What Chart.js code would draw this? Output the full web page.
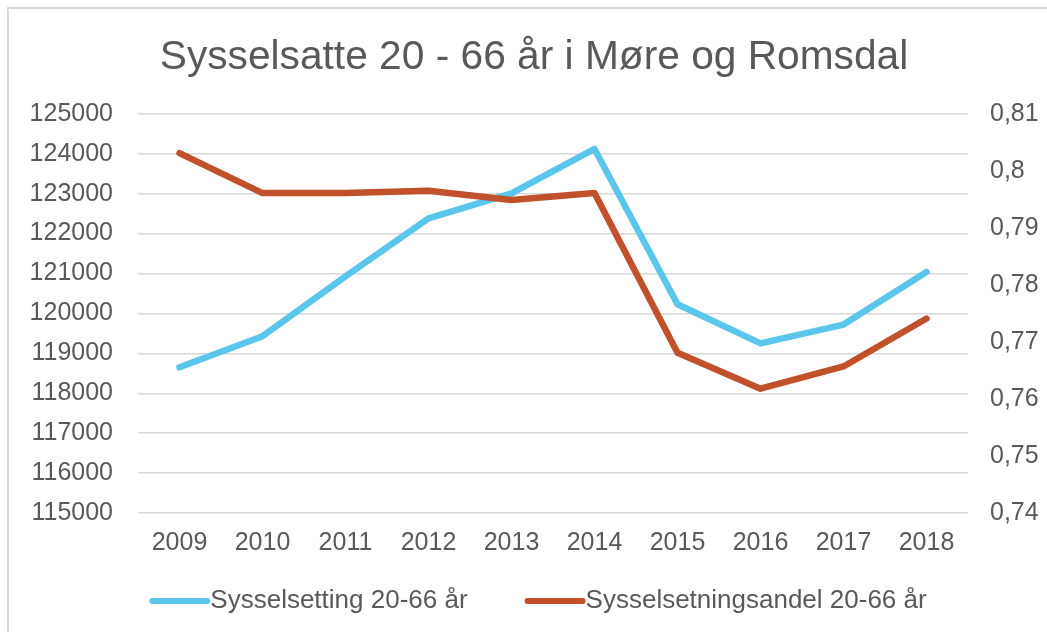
<!DOCTYPE html>
<html>
<head>
<meta charset="utf-8">
<script src="https://cdn.jsdelivr.net/npm/chart.js@4/dist/chart.umd.min.js"></script>
<style>
    html, body { margin: 0; padding: 0; background: #fff; overflow: hidden; }
    #frame {
        position: absolute; left: 7px; top: 7px;
        width: 1060px; height: 650px;
        border: 2px solid #d9d9d9;
    }
    #chart { position: absolute; left: 0; top: 0; }
</style>
</head>
<body>
<div id="frame"><canvas id="chart" width="1050" height="640"></canvas></div>
<script>
// === DATA ===
const years = ["2009", "2010", "2011", "2012", "2013", "2014", "2015", "2016", "2017", "2018"];
const sysselsetting = [118650, 119430, 120930, 122380, 123010, 124120, 120230, 119250, 119720, 121040];
const sysselsetningsandel = [0.8031, 0.7961, 0.7961, 0.7965, 0.7949, 0.7961, 0.7681, 0.7618, 0.7657, 0.7741];
const seriesNames = ["Sysselsetting 20-66 år", "Sysselsetningsandel 20-66 år"];
const seriesColors = ["#5bc6ec", "#c0512a"];
const chartTitle = "Sysselsatte 20 - 66 år i Møre og Romsdal";

const textColor = "#595959";
const fontFamily = "'Liberation Sans', Arial, sans-serif";

// legend drawn by hand: line swatch with the text right after it, like Excel
const bottomLegend = {
    id: "bottomLegend",
    afterDraw(chart) {
        const c = chart.ctx;
        const lineLen = 61;
        const gap = 57;
        c.save();
        c.font = "26px " + fontFamily;
        c.textBaseline = "middle";
        const widths = seriesNames.map(n => c.measureText(n).width);
        const total = widths.reduce((a, w) => a + w + lineLen, 0) + gap * (seriesNames.length - 1);
        let x = chart.width / 2 + 4 - total / 2;
        const y = 592;
        seriesNames.forEach((name, i) => {
            c.strokeStyle = seriesColors[i];
            c.lineWidth = 6;
            c.lineCap = "round";
            c.beginPath();
            c.moveTo(x + 3, y);
            c.lineTo(x + lineLen - 3, y);
            c.stroke();
            c.fillStyle = textColor;
            c.fillText(name, x + lineLen, y);
            x += lineLen + widths[i] + gap;
        });
        c.restore();
    }
};

const ctx = document.getElementById("chart").getContext("2d");

new Chart(ctx, {
    type: "line",
    data: {
        labels: years,
        datasets: [
            {
                label: seriesNames[0],
                data: sysselsetting,
                yAxisID: "y",
                borderColor: seriesColors[0],
                borderWidth: 6.5,
                pointRadius: 0,
                tension: 0,
                borderJoinStyle: "round",
                borderCapStyle: "round",
                order: 1
            },
            {
                label: seriesNames[1],
                data: sysselsetningsandel,
                yAxisID: "y1",
                borderColor: seriesColors[1],
                borderWidth: 6.5,
                pointRadius: 0,
                tension: 0,
                borderJoinStyle: "round",
                borderCapStyle: "round",
                order: 0
            }
        ]
    },
    options: {
        responsive: false,
        animation: false,
        layout: { padding: { top: 0, bottom: 76 } },
        plugins: {
            title: {
                display: true,
                text: chartTitle,
                color: textColor,
                font: { family: fontFamily, size: 40.7, weight: "normal" },
                padding: { top: 24, bottom: 32 }
            },
            legend: { display: false },
            tooltip: { enabled: false }
        },
        scales: {
            x: {
                offset: true,
                grid: { display: false, drawTicks: false },
                border: { display: false },
                ticks: {
                    color: textColor,
                    font: { family: fontFamily, size: 25 },
                    padding: 15,
                    maxRotation: 0
                }
            },
            y: {
                position: "left",
                min: 115000,
                max: 125000,
                grid: { color: "#d9d9d9", lineWidth: 1.5, drawTicks: false },
                border: { display: false },
                afterFit: (scale) => { scale.width = 129; },
                ticks: {
                    stepSize: 1000,
                    color: textColor,
                    font: { family: fontFamily, size: 25 },
                    padding: 25,
                    callback: (v) => String(v)
                }
            },
            y1: {
                position: "right",
                min: 0.74,
                max: 0.81,
                grid: { display: false, drawTicks: false },
                border: { display: false },
                afterFit: (scale) => { scale.width = 91; },
                ticks: {
                    stepSize: 0.01,
                    color: textColor,
                    font: { family: fontFamily, size: 25 },
                    padding: 22,
                    callback: (v) => String(Math.round(v * 100) / 100).replace(".", ",")
                }
            }
        }
    },
    plugins: [bottomLegend]
});
</script>
</body>
</html>
